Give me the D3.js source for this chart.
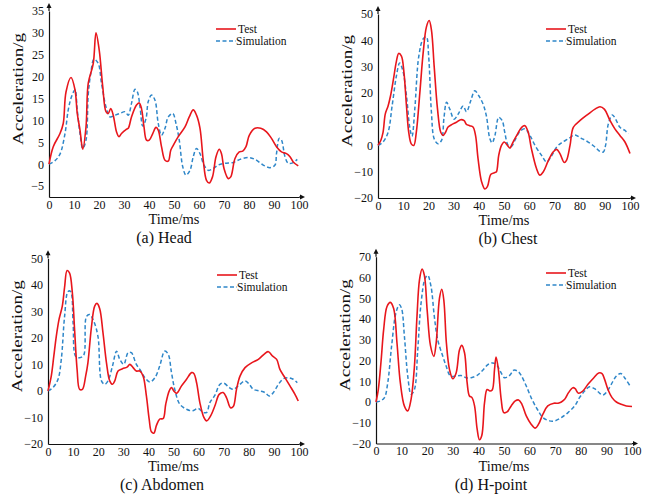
<!DOCTYPE html>
<html>
<head>
<meta charset="utf-8">
<script src="https://cdn.jsdelivr.net/npm/d3@7"></script>
<style>
  html, body { margin: 0; padding: 0; background: #fff; }
  svg { display: block; font-family: "Liberation Serif", "Times New Roman", serif; }
  .tick text { font-family: "Liberation Serif", "Times New Roman", serif; font-size: 12px; fill: #111; }
</style>
</head>
<body>
<svg id="fig" width="656" height="495"></svg>
<script>
// ---- data: [time ms, acceleration g] ----
const headTest = [[0,0],[1.7,4],[4.4,7],[5.7,9.3],[6.8,16.5],[8.8,19.8],[10.4,17],[11.3,11.6],[12.4,7.8],[13.5,3.4],[14.8,8.5],[15.7,18.5],[17.7,23],[18.8,30],[20.1,26],[21.5,17.7],[22.8,12],[23.7,11.6],[24.7,12.7],[25.7,11.2],[27,7.4],[28,6.3],[29,7],[30.8,7.9],[31.7,8.2],[33,10.8],[35,13.5],[36.1,14],[37,12.7],[38,8.5],[39,5.5],[40.1,5.5],[41.5,7],[42.8,8.4],[43.7,7.8],[45,4],[46.4,0.9],[47.7,0.7],[48.7,3.2],[49.7,4.3],[51.7,6.3],[54.4,8.5],[56.1,10.8],[57.7,12.4],[59,11.2],[60.4,8.2],[61.7,0.9],[63,-3.7],[64.1,-4.3],[65.4,-2.9],[66.8,1.7],[68.1,3.4],[69,2.4],[70,-1],[71.7,-3.3],[72.7,-2.9],[74.4,1.3],[76.1,2.8],[77.5,3],[78.8,4],[80.1,6.6],[82.4,8.2],[84.7,8.2],[87,7.4],[89,5.9],[91,4],[93,2.8],[95,2.4],[96.4,1.7],[97.7,0.5],[99.7,-0.4]];
const headSim = [[0,0],[2.4,0.8],[4.4,2.3],[6.4,7],[7.7,12.4],[9,15.4],[10.4,17],[11.3,12.4],[12.4,7],[13.5,3.6],[14.8,5.5],[15.7,16],[16.7,20.7],[18,24],[19.7,23],[21,18.5],[22.8,13.1],[24.4,10.8],[26.4,11.2],[28.4,11.6],[30.4,12],[31.7,11.2],[33,13.9],[34.4,17.1],[35.3,16.6],[36.4,13.1],[37.5,8.7],[38.8,10.4],[39.7,14.3],[41,15.8],[42.4,14.6],[43.7,9.3],[45,6.6],[46.4,8.2],[47.7,10.8],[49.5,11.6],[50.8,9.3],[52.1,5.5],[53.5,-0.6],[54.8,-2.5],[56.4,-1.4],[57.7,1.7],[59,3.6],[60.4,2.4],[62,-0.2],[63.7,-1.4],[65.7,-1],[67.7,-0.2],[70.4,0.2],[73.7,0.4],[76.4,1.1],[79.7,1.5],[82.4,1.1],[85.7,-0.2],[88.4,-0.8],[90.4,-0.2],[91,2.4],[92.1,5.9],[93,5.5],[94.4,1.7],[95.7,0.2],[97.5,0.3],[99.3,1.1]];

const chestTest = [[0,0],[1.1,1.9],[2,5],[2.9,12],[4,15],[5,19],[6.1,25],[7.3,32],[8.2,35],[9.3,34],[10.3,27.7],[11.3,15],[12.2,5],[13.2,0.6],[14.2,0],[15.2,5],[16.6,20],[17.9,35],[19.2,45],[20.3,47.5],[21.2,44],[22.3,30],[23.6,14],[24.9,5],[25.8,3.8],[26.8,5],[27.8,7],[29.4,8],[31.1,8.8],[32.8,9.8],[34.2,9.4],[35.1,8],[36.4,7.5],[37.7,7],[38.7,3.8],[39.7,-5],[41.1,-13.8],[42.4,-16.6],[43.4,-15.7],[44.8,-11],[46.4,-10.3],[47,-10],[47.9,-3.8],[49,0],[50.1,1.3],[51.4,0],[52.3,-1],[53.6,1.3],[55.4,4.4],[57,6.9],[58.3,7.5],[59.6,5],[60.9,-1.3],[62.9,-8.8],[64.2,-11.3],[65.6,-10],[67.5,-6],[69.5,-2.5],[70.9,-1.5],[72.2,-3.1],[73.9,-6.5],[74.8,-5.7],[76.2,0],[77.5,6.9],[80.1,9.4],[83.4,11.9],[86.1,13.8],[88.1,14.7],[89.8,13.8],[92.1,9.4],[94,6.3],[96,3.8],[98,1.3],[100,-3.1]];
const chestSim = [[0,0],[2,1.3],[4,5],[5.6,15],[7.3,26.4],[8.6,31.4],[9.9,28.3],[11.3,18.9],[12.6,6.9],[13.5,3.5],[14.6,13.8],[16.2,34],[17.9,40.5],[19.2,41.3],[20.1,34],[21.2,12.6],[22.3,2.5],[23.8,0.6],[25.2,1.9],[26.2,10.7],[27.2,16.4],[28.5,13.8],[30.2,10],[31.8,11.9],[33.8,15],[35.1,12.8],[36.8,17],[38.4,20.8],[40,18.9],[41.7,15.7],[43,11.3],[44.4,2.5],[45.3,1],[46.4,3.8],[47.9,10.7],[49.3,9.4],[50.3,5],[51.7,0],[53,-0.3],[54.3,1.9],[56.3,5.3],[58.3,6.3],[60.3,3.8],[62.3,0],[64.9,-3.8],[66.9,-6.3],[68.6,-4.4],[70.9,-0.6],[72.8,1],[75.5,2.5],[78.1,4],[80.5,2.8],[83.4,1.3],[86.1,-0.6],[88.1,-2.3],[89.4,-2.5],[90.3,0],[91.4,8.2],[93,11.6],[94.3,10],[96,6.9],[98,5.7],[99.3,4.4]];

const abdomenTest = [[0,0],[1.3,5.6],[2.3,13],[3.3,20.6],[4.4,27],[5.7,32],[6.6,39],[7.6,45.4],[8.6,44.4],[9.7,37],[10.6,23],[11.6,8],[12.6,0.6],[13.7,0.6],[15,5.6],[15.9,10.6],[17.3,24],[18.6,32],[19.5,33],[20.6,31],[21.9,22],[23.3,10.6],[24.6,3.8],[25.7,2.5],[26.6,3.8],[27.9,7.5],[29.7,8.4],[31.5,9],[32.6,10],[33.9,8.8],[35.2,7.5],[36.6,7.5],[37.9,5.6],[39.2,-1.9],[40.3,-10.6],[41.2,-15.4],[42.2,-15.9],[43.2,-13],[44.5,-10.6],[45.9,-10.4],[46.9,-5],[48.3,0],[49.2,1.3],[50.1,0],[51.2,-0.9],[53.2,1.9],[55.2,4.4],[57.2,6.9],[58.1,6.6],[59.2,3.1],[60.5,-4.4],[62.1,-10],[63.2,-11.3],[64.8,-9.4],[66.5,-5.6],[68.2,-1.3],[69.8,-0.6],[71.1,-2.5],[72.7,-6.3],[73.8,-5.9],[75.1,0.6],[76.5,5.6],[78.5,8.8],[81.1,10.6],[83.8,11.9],[86.4,14.1],[87.8,14.8],[89.5,13.1],[91.1,11.9],[92.4,8.1],[94.4,5],[96.4,1.9],[98.4,-1.3],[99.7,-3.8]];
const abdomenSim = [[0,0],[2,1.3],[4,4.4],[5.3,11.9],[6.6,28],[8,37.5],[9,37.5],[10,25.6],[11,13.1],[12.6,12.5],[14.2,13.4],[15.3,28],[16.6,28.8],[18.2,26.3],[19.9,20.6],[21.3,3.8],[22.6,2.5],[23.9,3.8],[25.7,9.4],[27.3,15],[28.6,11.9],[30.2,10],[31.9,14.4],[33.2,14.4],[35.2,10],[36.6,8.1],[38.6,5],[40.6,3.4],[42.6,5],[44.5,9.4],[46.5,15],[47.9,13.8],[49.2,6.9],[50.5,0.6],[52.5,-5],[55.2,-6.9],[57.5,-7.5],[59.8,-6.6],[61.8,-8.1],[63.2,-8.1],[64.5,-4.4],[66.5,-1.6],[68.5,2.5],[70.1,2.9],[72.2,1.3],[73.8,0.6],[75.8,1.9],[78.5,3.8],[80.2,2.5],[81.8,0.6],[84.4,0],[86.4,-0.6],[88.2,-1.9],[89.8,-0.6],[91.8,2.5],[93.8,4.6],[95.7,5],[97.7,4.4],[99.3,3.1]];

const hpointTest = [[0,0],[0.9,6],[2,20],[3,35],[4.3,46],[5.6,48],[6.9,45],[8.2,28.4],[9.5,9.3],[11.1,-2],[12.4,-4.3],[13.7,1.3],[15,17],[16,41],[17,59],[18,64],[18.9,61],[20,44],[21.3,27],[22.6,22],[23.5,28.4],[24.8,50],[25.7,54.3],[26.5,49],[27.5,28.4],[28.7,15.7],[30,11.2],[31.3,14],[32.6,25],[33.5,27.3],[34.6,23.6],[35.6,9.3],[36.5,2.9],[37.5,2.1],[38.5,-1.9],[39.5,-13],[40.4,-18.2],[41.3,-16.3],[42.4,-0.3],[43.4,6],[44.5,5.3],[45.4,5.8],[46.3,15.7],[46.9,21.7],[47.8,15.7],[48.9,1.3],[49.9,-5.1],[51.2,-4.8],[52.8,-1.9],[54.4,0.5],[55.7,1],[57,-1.1],[58.7,-6.7],[60.6,-10.7],[62.2,-12.6],[63.5,-10.7],[65.2,-5.9],[67.1,-1.9],[69.5,-0.6],[71.1,-0.6],[72.4,0],[73.7,1.3],[75.2,4.5],[76.9,6.9],[77.8,6.4],[79.1,4.2],[80.8,5.3],[82.8,8.5],[85.1,11.7],[87,14],[88.3,13.7],[89.3,10.9],[90.6,6],[92.2,2.1],[93.9,0],[95.8,-1.1],[97.8,-1.9],[100,-2.2]];
const hpointSim = [[0,0],[1.7,0.5],[3.3,2.1],[4.6,9.3],[6.1,27],[7.8,43],[9.1,46.8],[10,45],[11.1,31.6],[12.4,12.5],[13.7,3.7],[15,6],[16.3,25],[17.6,47.6],[19.2,59.6],[20.2,61],[21.5,55.6],[22.8,41],[24.1,30],[26.1,22],[27.4,17.3],[29.1,12.5],[31.3,12.5],[33.2,12.8],[35.2,11.7],[37.2,11.7],[39.5,12.8],[41.7,15.3],[43.7,18],[45.6,18.8],[47.3,17.6],[48.9,14],[50.2,11.7],[52.2,12.8],[53.8,15.3],[55.4,14.8],[56.7,12.8],[58.7,7.7],[60.9,1.3],[63,-3.5],[65.2,-7.5],[67.8,-9.1],[69.8,-9.1],[72.4,-7.5],[75,-5.1],[77.6,-1.9],[79.5,2.1],[81.5,5.3],[83.4,7.3],[85.4,6.4],[87.4,4.2],[88.7,3.4],[90.4,5.3],[91.9,8.5],[93.9,12.5],[95.6,13.7],[97.1,11.7],[99.1,8]];

const xTicks = [0, 10, 20, 30, 40, 50, 60, 70, 80, 90, 100];
const headTicks = [-5, 0, 5, 10, 15, 20, 25, 30, 35];
const chestTicks = [-20, -10, 0, 10, 20, 30, 40, 50];
const abdomenTicks = [-20, -10, 0, 10, 20, 30, 40, 50];
const hpointTicks = [-20, -10, 0, 10, 20, 30, 40, 50, 60, 70];
const seriesNames = ["Test", "Simulation"];

// panel layout (pixel boxes of the plot area, caption centre)
const panels = [
  { caption: "(a) Head",    test: headTest,    sim: headSim,    ticks: headTicks,    ydom: [-7.5, 35], x0: 49,  x1: 299, yb: 197,   yt: 11,    capX: 164, legX: 216, legY: 29 },
  { caption: "(b) Chest",   test: chestTest,   sim: chestSim,   ticks: chestTicks,   ydom: [-20, 50],  x0: 378, x1: 630, yb: 198,   yt: 14,    capX: 508, legX: 546, legY: 29 },
  { caption: "(c) Abdomen", test: abdomenTest, sim: abdomenSim, ticks: abdomenTicks, ydom: [-20, 50],  x0: 48,  x1: 299, yb: 444,   yt: 258.3, capX: 162, legX: 217, legY: 275 },
  { caption: "(d) H-point", test: hpointTest,  sim: hpointSim,  ticks: hpointTicks,  ydom: [-20, 70],  x0: 376, x1: 632, yb: 443.5, yt: 256.7, capX: 491, legX: 546, legY: 273 },
];

const RED = "#e8161c", BLUE = "#2f87c9";
const svg = d3.select("#fig");

panels.forEach((p) => {
  const x = d3.scaleLinear().domain([0, 100]).range([p.x0, p.x1]);
  const y = d3.scaleLinear().domain(p.ydom).range([p.yb, p.yt]);
  const g = svg.append("g");

  // axes (Origin style: no tick marks, arrowed ends)
  const styleAxis = (a) => {
    a.attr("font-family", null).attr("font-size", null);
    a.select(".domain").attr("stroke", "#111").attr("stroke-width", 1.2);
  };
  g.append("g").attr("transform", `translate(0,${p.yb})`)
    .call(d3.axisBottom(x).tickValues(xTicks).tickSize(0).tickPadding(3)).call(styleAxis);
  g.append("g").attr("transform", `translate(${p.x0},0)`)
    .call(d3.axisLeft(y).tickValues(p.ticks).tickSize(0).tickPadding(5)).call(styleAxis);
  g.append("line").attr("x1", p.x1).attr("x2", p.x1 + 2).attr("y1", p.yb).attr("y2", p.yb).attr("stroke", "#111").attr("stroke-width", 1.2);
  g.append("line").attr("x1", p.x0).attr("x2", p.x0).attr("y1", p.yt).attr("y2", p.yt - 4).attr("stroke", "#111").attr("stroke-width", 1.2);
  g.append("path").attr("d", `M${p.x1 + 6},${p.yb} l-5,-2.5 l0,5 z`).attr("fill", "#111");
  g.append("path").attr("d", `M${p.x0},${p.yt - 8} l-2.5,5 l5,0 z`).attr("fill", "#111");

  // axis titles and caption
  g.append("text").attr("x", (p.x0 + p.x1) / 2).attr("y", p.yb + 27)
    .attr("text-anchor", "middle").style("font-size", "14.5px").attr("fill", "#111").text("Time/ms");
  g.append("text").attr("transform", `translate(${p.x0 - 26},${(p.yb + p.yt) / 2 - 15}) rotate(-90)`)
    .attr("text-anchor", "middle").style("font-size", "15px").attr("fill", "#111")
    .attr("textLength", 112).attr("lengthAdjust", "spacingAndGlyphs").text("Acceleration/g");
  g.append("text").attr("x", p.capX).attr("y", p.yb + 46)
    .attr("text-anchor", "middle").style("font-size", "16px").attr("fill", "#111").text(p.caption);

  // curves
  const line = d3.line().x((d) => x(d[0])).y((d) => y(d[1])).curve(d3.curveCatmullRom.alpha(0.5));
  g.append("path").datum(p.sim).attr("d", line).attr("fill", "none")
    .attr("stroke", BLUE).attr("stroke-width", 1.5).attr("stroke-dasharray", "4 2.5");
  g.append("path").datum(p.test).attr("d", line).attr("fill", "none")
    .attr("stroke", RED).attr("stroke-width", 1.6);

  // legend
  seriesNames.forEach((name, i) => {
    const ly = p.legY + i * 12;
    g.append("line").attr("x1", p.legX).attr("x2", p.legX + 20).attr("y1", ly).attr("y2", ly)
      .attr("stroke", i ? BLUE : RED).attr("stroke-width", i ? 1.5 : 1.6)
      .attr("stroke-dasharray", i ? "4 2.5" : null);
    g.append("text").attr("x", p.legX + (i ? 20 : 22)).attr("y", ly + 3.5)
      .style("font-size", "11.5px").attr("fill", "#111").text(name);
  });
});
</script>
</body>
</html>
